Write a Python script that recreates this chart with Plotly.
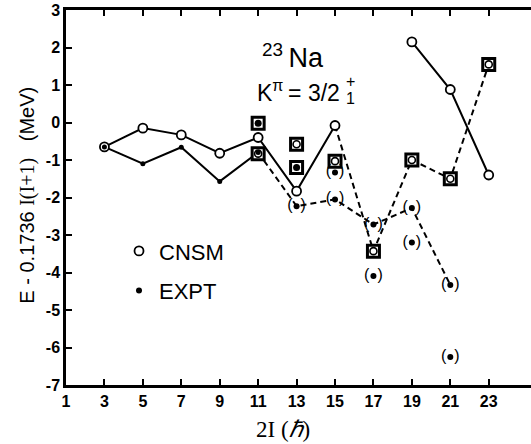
import plotly.graph_objects as go

# ---------------- data ----------------
cnsm_x1 = [3, 5, 7, 9, 11, 13, 15]
cnsm_y1 = [-0.65, -0.15, -0.33, -0.82, -0.40, -1.83, -0.08]
cnsm_x2 = [19, 21, 23]
cnsm_y2 = [2.15, 0.88, -1.40]
cnsm_dash_x = [15, 17, 19, 21, 23]
cnsm_dash_y = [-0.08, -3.43, -1.00, -1.50, 1.55]

expt_x = [3, 5, 7, 9, 11]
expt_y = [-0.65, -1.10, -0.66, -1.57, -0.80]
expt_dash_x = [11, 13, 15, 17, 19, 21]
expt_dash_y = [-0.80, -2.23, -2.05, -2.72, -2.28, -4.33]

boxed_cnsm_x = [11, 13, 15, 17, 19, 21, 23]
boxed_cnsm_y = [-0.83, -0.58, -1.03, -3.43, -1.00, -1.50, 1.55]
boxed_expt_x = [11, 13]
boxed_expt_y = [-0.02, -1.20]

paren_x = [13, 15, 15, 17, 17, 19, 19, 21, 21]
paren_y = [-2.23, -1.33, -2.05, -2.72, -4.09, -2.28, -3.20, -4.33, -6.25]

x_ticks = [1, 3, 5, 7, 9, 11, 13, 15, 17, 19, 21, 23]
y_ticks = [-7, -6, -5, -4, -3, -2, -1, 0, 1, 2, 3]

SANS = "Liberation Sans, Arial, sans-serif"
SERIF = "Liberation Serif, Times New Roman, serif"
BLACK = "black"

fig = go.Figure()

# lines
solid = dict(color=BLACK, width=2)
dashed = dict(color=BLACK, width=2, dash="6px,4px")
fig.add_trace(go.Scatter(x=cnsm_x1, y=cnsm_y1, mode="lines", line=solid, showlegend=False))
fig.add_trace(go.Scatter(x=cnsm_x2, y=cnsm_y2, mode="lines", line=solid, showlegend=False))
fig.add_trace(go.Scatter(x=expt_x, y=expt_y, mode="lines", line=solid, showlegend=False))
fig.add_trace(go.Scatter(x=cnsm_dash_x, y=cnsm_dash_y, mode="lines", line=dashed, showlegend=False))
fig.add_trace(go.Scatter(x=expt_dash_x, y=expt_dash_y, mode="lines", line=dashed, showlegend=False))

# boxes
box = dict(symbol="square", size=12, color="white", line=dict(color=BLACK, width=3))
fig.add_trace(go.Scatter(x=boxed_cnsm_x, y=boxed_cnsm_y, mode="markers", marker=box, showlegend=False))
fig.add_trace(go.Scatter(x=boxed_expt_x, y=boxed_expt_y, mode="markers", marker=box, showlegend=False))

# open circles (CNSM)
circ = dict(symbol="circle", size=9, color="white", line=dict(color=BLACK, width=1.8))
fig.add_trace(go.Scatter(x=cnsm_x1 + cnsm_x2, y=cnsm_y1 + cnsm_y2, mode="markers",
                         marker=circ, showlegend=False))
fig.add_trace(go.Scatter(x=boxed_cnsm_x, y=boxed_cnsm_y, mode="markers",
                         marker=dict(symbol="circle", size=7, color="white",
                                     line=dict(color=BLACK, width=1.6)), showlegend=False))

# EXPT dots
dot = dict(symbol="circle", size=5, color=BLACK, line=dict(width=0))
fig.add_trace(go.Scatter(x=expt_x, y=expt_y, mode="markers", marker=dot, showlegend=False))
fig.add_trace(go.Scatter(x=boxed_expt_x, y=boxed_expt_y, mode="markers",
                         marker=dict(symbol="circle", size=7, color=BLACK), showlegend=False))
fig.add_trace(go.Scatter(x=paren_x, y=paren_y, mode="markers+text",
                         marker=dict(symbol="circle", size=6, color=BLACK),
                         text=["(\u2002)"] * len(paren_x), textposition="middle center",
                         textfont=dict(family=SANS, size=16, color=BLACK), showlegend=False))

# legend entries
fig.add_trace(go.Scatter(x=[None], y=[None], mode="markers", name="CNSM", legendgroup="a",
                         marker=dict(symbol="circle", size=9, color="white",
                                     line=dict(color=BLACK, width=1.8))))
fig.add_trace(go.Scatter(x=[None], y=[None], mode="markers", name="EXPT", legendgroup="b",
                         marker=dict(symbol="circle", size=6, color=BLACK)))

# annotations
fig.add_annotation(x=12.8, y=1.78, xref="x", yref="y", showarrow=False,
                   text="<sup>23</sup>\u2009Na", font=dict(family=SANS, size=27, color=BLACK))
fig.add_annotation(x=13.1, y=0.85, xref="x", yref="y", showarrow=False,
                   text="K<sup>\u03c0</sup>\u2009= 3/2", font=dict(family=SANS, size=23, color=BLACK))
fig.add_annotation(x=15.8, y=1.10, xref="x", yref="y", showarrow=False,
                   text="+", font=dict(family=SANS, size=16, color=BLACK))
fig.add_annotation(x=15.8, y=0.64, xref="x", yref="y", showarrow=False,
                   text="1", font=dict(family=SANS, size=16, color=BLACK))

# axis titles as annotations for exact placement
fig.add_annotation(x=-0.0817, y=0.505, xref="paper", yref="paper", showarrow=False,
                   textangle=-90, xanchor="center", yanchor="middle",
                   text="E - 0.1736 <span style='font-family:Liberation Serif'>I(I+1)</span>   (MeV)",
                   font=dict(family=SANS, size=20, color=BLACK))
fig.add_annotation(x=0.467, y=-0.118, xref="paper", yref="paper", showarrow=False,
                   xanchor="center", yanchor="middle",
                   text="2I (<i>\u210f</i>)", font=dict(family=SERIF, size=23, color=BLACK))

fig.update_layout(
    width=531, height=444,
    margin=dict(l=66, r=0, t=10, b=59),
    paper_bgcolor="white", plot_bgcolor="white",
    showlegend=True,
    legend=dict(x=0.114, y=0.413, xanchor="left", yanchor="top",
                font=dict(family=SANS, size=22, color=BLACK),
                bgcolor="rgba(0,0,0,0)", tracegroupgap=8, itemwidth=30),
    xaxis=dict(range=[1, 25.2], tickvals=x_ticks, ticktext=["<b>%d</b>" % v for v in x_ticks],
               ticks="inside", ticklen=6, tickwidth=1.5, tickcolor=BLACK,
               showline=True, linecolor=BLACK, linewidth=2.5, mirror="ticks",
               showgrid=False, zeroline=False,
               tickfont=dict(family=SANS, size=16, color=BLACK)),
    yaxis=dict(range=[-7, 3], tickvals=y_ticks, ticktext=["<b>%d</b>" % v for v in y_ticks],
               ticks="inside", ticklen=6, tickwidth=1.5, tickcolor=BLACK,
               showline=True, linecolor=BLACK, linewidth=2.5, mirror=False,
               showgrid=False, zeroline=False,
               tickfont=dict(family=SANS, size=16, color=BLACK)),
    yaxis2=dict(range=[-7, 3], tickvals=y_ticks, overlaying="y", side="right",
                ticks="inside", ticklen=6, tickwidth=1.5, tickcolor=BLACK,
                showticklabels=False, showline=False, showgrid=False, zeroline=False),
)

fig.write_html("out.html")
